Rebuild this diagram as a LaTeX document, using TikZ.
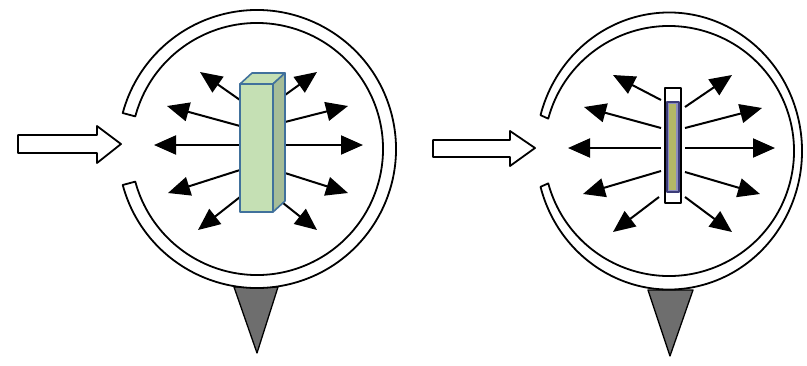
\documentclass[tikz,border=0pt]{standalone}
\usetikzlibrary{arrows.meta}

\definecolor{crystalfront}{HTML}{C5E0B4}
\definecolor{crystalside}{HTML}{A6BD98}
\definecolor{crystaledge}{HTML}{41719C}
\definecolor{filmbase}{HTML}{8C8CC0}
\definecolor{filmedge}{HTML}{3C3C78}
\definecolor{filmlayer}{HTML}{B3B766}
\definecolor{tipgray}{HTML}{6E6E6E}

\begin{document}
\begin{tikzpicture}[x=1pt,y=-1pt,line join=round,
                    ring/.style={draw=black,fill=white,line width=1.8pt},
                    beam/.style={draw=black,fill=white,line width=1.8pt},
                    ray/.style={line width=2pt,-{Triangle[length=22pt,width=19pt]}},
                    crystal/.style={draw=crystaledge,line width=1.6pt},
                    pointer/.style={draw=black,fill=tipgray,line width=1.3pt}]
  \useasboundingbox (0,0) rectangle (807,365);

  % bulk sample
  \begin{scope}
    \draw[pointer] (234,287) -- (278,287) -- (257,353) -- cycle;
    \draw[ring] ([shift={(257,149)}]165:139) arc[start angle=165,end angle=-165,radius=139]
      -- ([shift={(257,149)}]-165:126) arc[start angle=-165,end angle=165,radius=126] -- cycle;
    \draw[beam] (18,135) -- (97,135) -- (97,126) -- (121,144) -- (97,163)
      -- (97,153) -- (18,153) -- cycle;
    \foreach \xa/\ya/\xb/\yb in {240/100/200/72, 285/95/317/72, 240/126/167/106,
        285/122/348/106, 240/145/154/145, 285/145/363/145, 240/170/168/193,
        285/173/348/193, 240/197/198/230, 283/203/317/230}
      \draw[ray] (\xa,\ya) -- (\xb,\yb);
    \draw[crystal,fill=crystalfront] (240,84) rectangle (273,212);
    \draw[crystal,fill=crystalfront] (240,84) -- (252,73) -- (285,73) -- (273,84) -- cycle;
    \draw[crystal,fill=crystalside] (273,84) -- (285,73) -- (285,201) -- (273,212) -- cycle;
  \end{scope}

  % thin film
  \begin{scope}
    \draw[pointer] (648,290) -- (693,290) -- (670,356) -- cycle;
    \draw[ring] ([shift={(669,151)}]165:133 and 138.5)
      arc[start angle=165,end angle=-165,x radius=133,y radius=138.5]
      -- ([shift={(669,151)}]-165:125) arc[start angle=-165,end angle=165,radius=125] -- cycle;
    \draw[beam] (433,140) -- (510,140) -- (510,131) -- (535,148) -- (510,166)
      -- (510,157) -- (433,157) -- cycle;
    \foreach \xa/\ya/\xb/\yb in {661/100/613/75, 685/107/732/75, 661/128/584/107,
        685/128/762/108, 661/148/568/148, 685/148/775/148, 661/171/583/194,
        685/172/760/194, 659/197/613/232, 685/197/732/232}
      \draw[ray] (\xa,\ya) -- (\xb,\yb);
    \draw[draw=black,fill=white,line width=1.4pt] (665,88) rectangle (681,203);
    \draw[draw=filmedge,fill=filmbase,line width=1.2pt] (667,102) rectangle (679,192);
    \fill[filmlayer] (668.5,104) rectangle (675.5,190);
  \end{scope}
\end{tikzpicture}
\end{document}
